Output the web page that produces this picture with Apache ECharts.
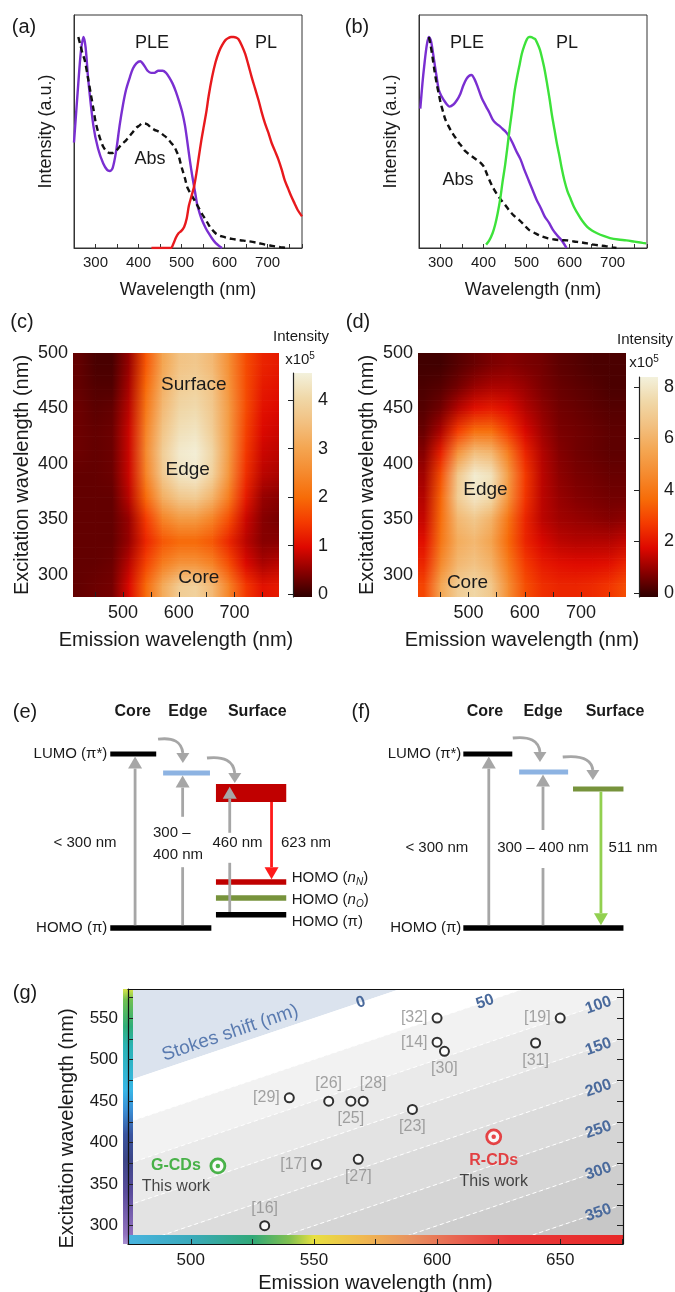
<!DOCTYPE html>
<html><head><meta charset="utf-8">
<script src="https://cdn.jsdelivr.net/npm/echarts@6/dist/echarts.min.js"></script>
<style>html,body{margin:0;padding:0;background:#fff}#c{width:675px;height:1292px}</style>
</head><body><div id="c"></div>
<script>
// ================= DATA =================
// (a) R-CDs spectra  [wavelength nm, normalized intensity]
const pleA = [[250,0.50],[260,0.78],[266,0.93],[272,1.0],[277,0.95],[283,0.80],[295,0.58],[306,0.47],[318,0.40],[327,0.37],[333,0.365],[340,0.38],[348,0.46],[356,0.58],[364,0.68],[371,0.75],[380,0.81],[387,0.85],[395,0.875],[404,0.885],[413,0.865],[421,0.84],[429,0.83],[437,0.83],[446,0.84],[456,0.84],[464,0.83],[471,0.81],[479,0.78],[487,0.74],[495,0.69],[502,0.64],[508,0.58],[513,0.51],[519,0.42],[525,0.34],[531,0.27],[536,0.21],[542,0.165],[548,0.13],[556,0.095],[563,0.07],[571,0.045],[579,0.024],[587,0.01],[594,0.0]];
const absA = [[260,1.0],[265,0.96],[270,0.92],[275,0.89],[283,0.80],[289,0.73],[295,0.66],[300,0.60],[306,0.55],[312,0.51],[318,0.48],[325,0.46],[333,0.45],[340,0.45],[345,0.455],[350,0.465],[356,0.48],[363,0.495],[371,0.51],[379,0.53],[387,0.55],[395,0.57],[402,0.58],[408,0.59],[414,0.59],[421,0.585],[429,0.57],[437,0.56],[448,0.55],[458,0.535],[467,0.52],[475,0.50],[483,0.48],[489,0.455],[494,0.43],[498,0.40],[502,0.37],[508,0.33],[513,0.29],[519,0.265],[525,0.245],[533,0.215],[540,0.19],[548,0.16],[556,0.134],[563,0.11],[571,0.087],[579,0.07],[587,0.06],[594,0.055],[606,0.048],[617,0.043],[636,0.037],[655,0.032],[675,0.025],[694,0.016],[706,0.012],[717,0.008],[730,0.004],[744,0.0]];
const plA = [[430,0],[460,0],[475,0],[481,0.02],[487,0.05],[493,0.07],[499,0.08],[506,0.10],[512,0.14],[517,0.20],[523,0.245],[529,0.29],[535,0.36],[540,0.43],[546,0.51],[552,0.58],[558,0.65],[563,0.72],[571,0.81],[579,0.88],[587,0.93],[594,0.96],[602,0.985],[609,0.995],[615,1.0],[621,1.0],[627,0.997],[632,0.99],[640,0.96],[648,0.92],[655,0.87],[663,0.81],[671,0.755],[679,0.70],[686,0.645],[694,0.59],[702,0.545],[709,0.50],[717,0.46],[725,0.42],[733,0.37],[740,0.32],[748,0.28],[755,0.245],[763,0.21],[770,0.18],[780,0.15]];
// (b) G-CDs spectra
const pleB = [[253,0.66],[258,0.78],[262,0.86],[268,0.96],[273,1.0],[278,0.98],[285,0.89],[291,0.81],[296,0.75],[302,0.72],[308,0.70],[315,0.68],[321,0.67],[330,0.68],[338,0.70],[346,0.73],[353,0.77],[360,0.80],[366,0.815],[372,0.82],[379,0.80],[387,0.76],[396,0.71],[406,0.67],[414,0.64],[421,0.61],[429,0.59],[436,0.58],[444,0.565],[452,0.55],[459,0.53],[467,0.50],[476,0.46],[486,0.42],[495,0.37],[505,0.32],[514,0.275],[523,0.23],[533,0.19],[542,0.15],[552,0.12],[561,0.087],[571,0.06],[580,0.04],[587,0.02],[593,0.0]];
const absB = [[273,1.0],[277,0.96],[281,0.91],[286,0.84],[291,0.78],[296,0.73],[300,0.69],[306,0.645],[311,0.61],[318,0.58],[326,0.55],[334,0.525],[342,0.50],[350,0.48],[357,0.46],[366,0.445],[376,0.43],[386,0.415],[395,0.40],[401,0.385],[406,0.36],[413,0.325],[421,0.29],[431,0.255],[440,0.23],[450,0.205],[459,0.18],[470,0.155],[482,0.134],[494,0.11],[505,0.087],[520,0.07],[535,0.055],[550,0.046],[565,0.04],[580,0.037],[595,0.036],[610,0.031],[626,0.027],[641,0.022],[656,0.016],[671,0.012],[686,0.008],[700,0.003],[709,0.0]];
const plB = [[406,0.016],[413,0.035],[421,0.07],[427,0.11],[433,0.166],[439,0.235],[444,0.31],[450,0.39],[455,0.47],[461,0.57],[467,0.66],[472,0.74],[478,0.81],[484,0.87],[489,0.92],[495,0.96],[501,0.99],[506,1.0],[510,1.0],[515,0.995],[520,0.99],[525,0.97],[531,0.94],[536,0.90],[542,0.845],[548,0.775],[554,0.70],[559,0.63],[565,0.56],[571,0.49],[577,0.43],[582,0.375],[588,0.32],[595,0.27],[603,0.23],[610,0.195],[618,0.166],[629,0.13],[641,0.10],[652,0.083],[664,0.07],[679,0.057],[694,0.047],[713,0.04],[732,0.036],[751,0.03],[770,0.024],[778,0.022]];

// (c)/(d) excitation-emission maps (x10^5)
const emCenters = [420,450,480,510,540,570,600,630,660,690,720,750,780];
const exCenters = [490,470,450,430,410,390,370,350,330,310,290];
const mapC = [
 [0.30,0.15,0.15,0.60,1.80,3.00,3.60,3.70,3.40,2.60,1.70,1.30,1.20],
 [0.30,0.20,0.20,0.70,2.00,3.20,3.80,3.90,3.60,2.70,1.70,1.20,1.10],
 [0.35,0.25,0.30,0.80,2.20,3.40,4.00,4.10,3.70,2.80,1.70,1.10,1.00],
 [0.35,0.30,0.35,0.90,2.40,3.60,4.20,4.30,3.80,2.80,1.60,1.00,0.90],
 [0.35,0.30,0.35,0.90,2.50,3.80,4.40,4.50,4.00,2.80,1.50,0.90,0.80],
 [0.30,0.30,0.35,0.90,2.40,3.70,4.30,4.40,3.90,2.70,1.40,0.80,0.70],
 [0.30,0.30,0.30,0.80,2.00,3.20,3.70,3.80,3.30,2.30,1.20,0.60,0.50],
 [0.30,0.30,0.30,0.60,1.50,2.40,2.80,2.80,2.40,1.70,0.90,0.50,0.40],
 [0.30,0.30,0.30,0.60,1.30,1.80,2.00,2.00,1.80,1.30,0.80,0.50,0.50],
 [0.30,0.30,0.35,0.80,1.60,2.30,2.70,2.70,2.40,1.70,1.00,0.70,0.80],
 [0.30,0.35,0.40,1.00,2.00,3.10,3.80,3.90,3.40,2.40,1.50,1.10,1.20]];
const mapD = [
 [0.20,0.20,0.40,0.60,0.80,0.90,0.80,0.70,0.50,0.40,0.30,0.30,0.30],
 [0.30,0.40,0.70,1.10,1.30,1.30,1.10,0.80,0.60,0.50,0.40,0.30,0.30],
 [0.40,0.70,1.40,2.00,2.20,1.90,1.40,1.00,0.70,0.60,0.50,0.40,0.40],
 [0.60,1.30,2.80,3.80,3.80,2.80,1.80,1.20,0.80,0.70,0.60,0.50,0.50],
 [0.90,2.30,5.00,6.50,6.20,4.30,2.40,1.40,0.90,0.70,0.60,0.50,0.50],
 [1.20,3.20,6.80,8.20,7.80,5.30,2.80,1.50,1.00,0.80,0.70,0.60,0.60],
 [1.40,3.60,7.00,8.00,7.50,5.00,2.70,1.50,1.10,0.90,0.80,0.70,0.70],
 [1.60,3.80,6.20,6.80,6.00,4.00,2.40,1.50,1.20,1.10,1.00,0.90,1.00],
 [2.00,4.00,5.80,6.20,5.50,3.70,2.40,1.80,1.50,1.40,1.40,1.40,1.60],
 [2.40,4.60,6.20,6.60,6.00,4.20,2.80,2.20,2.00,1.90,1.90,2.00,2.40],
 [3.00,5.60,7.00,7.40,6.80,4.80,3.20,2.60,2.40,2.40,2.50,2.70,3.20]];
const heatMaxC = 4.56, heatMaxD = 8.4;
const cbarTicksC = [0,1,2,3,4], cbarTicksD = [0,2,4,6,8];
const emTicks = [450,500,550,600,650,700,750], emLabels = [500,600,700], exLabels = [300,350,400,450,500];
// region annotations [emission, excitation, text]
const regionsC = [[627,471,'Surface'],[616,395,'Edge'],[636,297,'Core']];
const regionsD = [[530,377,'Edge'],[498,293,'Core']];

// (e) R-CDs energy diagram (relative energy, a.u.)
const eLevelE = [4.35, 3.875, 3.375, 1.15, 0.75, 0.33, 0];
const eArrows = [[0.07,4.285],[0.07,3.81],[0.40,3.53],[3.15,1.22]];   // [from, to]
const eCurves = [[4.72,4.125],[4.25,3.625]];
// (f) G-CDs energy diagram
const fLevelE = [4.35, 3.9, 3.475, 0];
const fArrows = [[0.07,4.285],[0.07,3.835],[3.41,0.07]];
const fCurves = [[4.75,4.15],[4.275,3.7]];

// (g) Stokes shift map
const refLabels = ['[32]','[19]','[14]','[30]','[31]','[26]','[29]','[25]','[28]','[23]','[27]','[17]','[16]'];
const refEm = [600,650,600,603,640,556,540,565,570,590,568,551,530];
const refEx = [550,550,521,510,520,450,454,450,450,440,380,374,300];
const thisWork = ['G-CDs','R-CDs'];
const thisEm = [511,623];
const thisEx = [372,407];
const stokesEdges = [-1000,0,50,100,150,200,250,300,350,1000];
const stokesLines = [50,100,150,200,250,300,350];
const stokesLabels = [0,50,100,150,200,250,300,350];
const gXTicks = [500,525,550,575,600,625,650,675], gXLabels = [500,550,600,650];
const gYTicks = [300,325,350,375,400,425,450,475,500,525,550,575], gYLabels = [300,350,400,450,500,550];

// ================= STYLE / LAYOUT =================
const FONT = '"Liberation Sans", Arial, Helvetica, sans-serif';
const INK = '#1a1a1a';
const heatPalette = ['#2e0000','#880000','#de0800','#f43a00','#f76c08','#f58a2e','#f4a652','#f2c080','#f0d8a8','#f3f1dc'];
const HX0 = 410, HX1 = 780, HY0 = 280, HY1 = 500;
const gX0 = 474.5, gX1 = 675.5, gY0 = 278, gY1 = 585;
const bandColors = ['#dbe3ee','#ffffff','#f2f2f2','#eaeaea','#e3e3e3','#dcdcdc','#d5d5d5','#cecece','#c7c7c7'];
const exBarWl = [278,290,340,380,410,440,463,517,540,572,585];
const exBarColor = ['#a98fd0','#9070be','#5a4c9c','#3c4688','#3a55a0','#3a90d6','#38b6e6','#2ab3b3','#2fae78','#70c050','#d8e44a'];
const emBarWl = [474.5,500,525,540,550,570,590,610,630,675.5];
const emBarColor = ['#48b4e0','#3aaabb','#30a878','#80c050','#e8e040','#f0b850','#e89060','#e86050','#e83a3a','#e82828'];
const refPos = ['left','left','left','bottom','bottom','top','left','bottom','top','bottom','bottom','left','top'];

// diagram layout (column units)
const eLevelSpan = [[0,1],[1.15,2.17],[2.3,3.83],[2.3,3.83],[2.3,3.83],[2.3,3.83],[0,2.2]];
const eLevelThick = [0.13,0.13,0.45,0.14,0.14,0.14,0.14];
const eLevelColor = ['#000000','#8db3e2','#c00000','#c00000','#77933c','#000000','#000000'];
const eArrowX = [0.54,1.575,2.6,3.51];
const eArrowGap = [null,[1.52,2.78],[1.63,2.38],null];
const eArrowColor = ['#a6a6a6','#a6a6a6','#a6a6a6','#ff1a1a'];
const eCurveX = [[1.04,1.58],[2.105,2.71]];
const eTexts = [
 [0.49,5.4,'Core','center',1],[1.69,5.4,'Edge','center',1],[3.2,5.4,'Surface','center',1],
 [-0.065,4.35,'LUMO (π*)','right'],[-0.065,0,'HOMO (π)','right'],
 [3.95,1.25,'HOMO ({it|n}{sub|N})','left'],[3.95,0.7,'HOMO ({it|n}{sub|O})','left'],[3.95,0.15,'HOMO (π)','left'],
 [-0.55,2.125,'< 300 nm','center'],[0.93,2.375,'300 –','left'],[0.93,1.825,'400 nm','left'],
 [2.77,2.125,'460 nm','center'],[4.26,2.125,'623 nm','center']];
const fLevelSpan = [[0,1],[1.14,2.14],[2.24,3.27],[0,3.27]];
const fLevelThick = [0.13,0.13,0.13,0.14];
const fLevelColor = ['#000000','#8db3e2','#77933c','#000000'];
const fArrowX = [0.52,1.627,2.81];
const fArrowGap = [null,[1.5,2.45],null];
const fArrowColor = ['#a6a6a6','#a6a6a6','#92d050'];
const fCurveX = [[1.01,1.565],[2.03,2.645]];
const fTexts = [
 [0.443,5.4,'Core','center',1],[1.627,5.4,'Edge','center',1],[3.097,5.4,'Surface','center',1],
 [-0.04,4.35,'LUMO (π*)','right'],[-0.04,0,'HOMO (π)','right'],
 [-0.54,2.0,'< 300 nm','center'],[1.627,2.0,'300 – 400 nm','center'],[3.465,2.0,'511 nm','center']];

// ================= BUILD =================
const chart = echarts.init(document.getElementById('c'), null, {renderer:'canvas', width:675, height:1292});
const series = [];
function add(s){ series.push(s); return series.length - 1; }
const nameStyle = s => ({fontFamily:FONT, fontSize:s, color:INK});
const lblStyle = s => ({fontFamily:FONT, fontSize:s, color:INK});

// spectra
function spectra(g, ple, abs, pl, plColor){
  const base = {type:'line', xAxisIndex:g, yAxisIndex:g, showSymbol:false, smooth:0.3, silent:true, z:3};
  add(Object.assign({}, base, {data:ple, lineStyle:{color:'#7a2fd1', width:2.4}}));
  add(Object.assign({}, base, {data:abs, lineStyle:{color:'#111', width:2.4, type:[6,4]}}));
  add(Object.assign({}, base, {data:pl, lineStyle:{color:plColor, width:2.4}}));
}
spectra(0, pleA, absA, plA, '#e8191d');
spectra(1, pleB, absB, plB, '#3de23a');

// heat maps: each cell value is coloured by the visualMap; the area between
// neighbouring cell centres is shaded with gradients between their colours.
function heatData(m){ const out=[]; exCenters.forEach((ex,i)=>emCenters.forEach((em,j)=>out.push([em,ex,m[i][j]]))); return out; }
function makeHeatItem(matrix, vmax){
  const nC = emCenters.length, nR = exCenters.length;
  return function(p, api){
    const idx = p.dataIndex, i = Math.floor(idx/nC), j = idx % nC;
    const col = (r,c) => api.visual('color', r*nC + c) || echarts.color.lerp(Math.min(1, matrix[r][c]/vmax), heatPalette);
    const em = api.value(0), ex = api.value(1);
    const xn = [];
    if (j===0) xn.push([HX0, 0]);
    xn.push([em, j]);
    xn.push(j<nC-1 ? [emCenters[j+1], j+1] : [HX1, j]);
    const yn = [];
    if (i===0) yn.push([HY1, 0]);
    yn.push([ex, i]);
    yn.push(i<nR-1 ? [exCenters[i+1], i+1] : [HY0, i]);
    const xpx = xn.map(n => api.coord([n[0], ex])[0]);
    const x0 = xpx[0], x1 = xpx[xpx.length-1];
    const kids = [];
    if (x1 - x0 < 0.5) return {type:'group', children:kids};
    for (let s=0; s<yn.length-1; s++){
      const ya = api.coord([em, yn[s][0]])[1], yb = api.coord([em, yn[s+1][0]])[1];
      if (Math.abs(yb-ya) < 0.5) continue;
      const ra = yn[s][1], rb = yn[s+1][1];
      const K = ra===rb ? 1 : 8;
      for (let k=0; k<K; k++){
        const t = (k+0.5)/K;
        const stops = xn.map((n,q)=>({offset:(xpx[q]-x0)/(x1-x0),
          color: ra===rb ? col(ra,n[1]) : echarts.color.lerp(t, [col(ra,n[1]), col(rb,n[1])])}));
        const y0 = ya + (yb-ya)*k/K, y1 = ya + (yb-ya)*(k+1)/K;
        kids.push({type:'rect', shape:{x:x0, y:Math.min(y0,y1), width:x1-x0+0.7, height:Math.abs(y1-y0)+0.7},
          style:{fill:new echarts.graphic.LinearGradient(0,0,1,0,stops)}});
      }
    }
    return {type:'group', children:kids};
  };
}
const hC = add({type:'custom', xAxisIndex:2, yAxisIndex:2, clip:true, silent:true, data:heatData(mapC), renderItem:makeHeatItem(mapC, heatMaxC), z:2});
const hD = add({type:'custom', xAxisIndex:4, yAxisIndex:4, clip:true, silent:true, data:heatData(mapD), renderItem:makeHeatItem(mapD, heatMaxD), z:2});
function regionText(g, items){
  add({type:'custom', xAxisIndex:g, yAxisIndex:g, silent:true, z:6, data:items.map(r=>[r[0], r[1]]),
    renderItem:(p, api)=>{
      const pt = api.coord([api.value(0), api.value(1)]);
      return {type:'text', x:pt[0], y:pt[1], style:{text:items[p.dataIndex][2], fill:INK, fontFamily:FONT, fontSize:19, align:'center', verticalAlign:'middle'}};
    }});
}
regionText(2, regionsC);
regionText(4, regionsD);
function cbarItem(p, api){
  const cs = p.coordSys;
  const stops = heatPalette.map((c,i)=>({offset:i/(heatPalette.length-1), color:c}));
  return {type:'rect', shape:{x:cs.x, y:cs.y, width:cs.width, height:cs.height}, style:{fill:new echarts.graphic.LinearGradient(0,1,0,0,stops)}};
}
add({type:'custom', xAxisIndex:3, yAxisIndex:3, silent:true, data:[[0.5,0]], renderItem:cbarItem, z:2});
add({type:'custom', xAxisIndex:5, yAxisIndex:5, silent:true, data:[[0.5,0]], renderItem:cbarItem, z:2});

// energy diagrams
const RICH = {
  it:{fontStyle:'italic', fontSize:15, fontFamily:FONT, fill:INK, color:INK},
  sub:{fontStyle:'italic', fontSize:10, fontFamily:FONT, fill:INK, color:INK, verticalAlign:'bottom', padding:[8,0,0,0]}
};
function diagram(g, levelE, span, thick, colors, arrows, arrowX, gaps, arrowColors, curves, curveX, texts){
  add({type:'custom', xAxisIndex:g, yAxisIndex:g, silent:true, z:3,
    data: levelE.map((e,i)=>[span[i][0], e]),
    renderItem:(p, api)=>{
      const i=p.dataIndex, e=api.value(1);
      const a=api.coord([span[i][0], e+thick[i]/2]), b=api.coord([span[i][1], e-thick[i]/2]);
      return {type:'rect', shape:{x:a[0], y:a[1], width:b[0]-a[0], height:b[1]-a[1]}, style:{fill:colors[i]}};
    }});
  add({type:'custom', xAxisIndex:g, yAxisIndex:g, silent:true, z:4,
    data: arrows.map((r,i)=>[arrowX[i], r[0], r[1]]),
    renderItem:(p, api)=>{
      const i=p.dataIndex, x=api.value(0), e0=api.value(1), e1=api.value(2);
      const p0=api.coord([x,e0]), p1=api.coord([x,e1]);
      const dir = p1[1] > p0[1] ? 1 : -1, L=12, H=7;
      const base = p1[1] - dir*L;
      const col = arrowColors[i], kids=[];
      const seg=(y1,y2)=>kids.push({type:'line', shape:{x1:p0[0], y1:y1, x2:p0[0], y2:y2}, style:{stroke:col, lineWidth:2.8}});
      if (gaps[i]) {
        const gA=api.coord([x,gaps[i][0]])[1], gB=api.coord([x,gaps[i][1]])[1];
        if (dir<0){ seg(p0[1], gA); seg(gB, base); } else { seg(p0[1], gB); seg(gA, base); }
      } else seg(p0[1], base);
      kids.push({type:'polygon', shape:{points:[[p1[0],p1[1]],[p1[0]-H,base],[p1[0]+H,base]]}, style:{fill:col}});
      return {type:'group', children:kids};
    }});
  add({type:'custom', xAxisIndex:g, yAxisIndex:g, silent:true, z:4,
    data: curves.map((c,i)=>[curveX[i][0], c[0], curveX[i][1], c[1]]),
    renderItem:(p, api)=>{
      const s=api.coord([api.value(0), api.value(1)]), t=api.coord([api.value(2), api.value(3)]);
      const base=t[1]-10;
      return {type:'group', children:[
        {type:'bezierCurve', shape:{x1:s[0], y1:s[1], x2:t[0], y2:base, cpx1:t[0]-2, cpy1:s[1]-3}, style:{stroke:'#a6a6a6', lineWidth:2.8, fill:null}},
        {type:'polygon', shape:{points:[[t[0],t[1]],[t[0]-6.5,base],[t[0]+6.5,base]]}, style:{fill:'#a6a6a6'}}]};
    }});
  add({type:'custom', xAxisIndex:g, yAxisIndex:g, silent:true, z:5,
    data: texts.map(t=>[t[0], t[1]]),
    renderItem:(p, api)=>{
      const t=texts[p.dataIndex], pt=api.coord([api.value(0), api.value(1)]), head=!!t[4];
      return {type:'text', x:pt[0], y:pt[1], style:{text:t[2], fill:INK, fontFamily:FONT, fontSize:head?16:15,
        fontWeight:head?'bold':'normal', align:t[3], verticalAlign:'middle', rich:RICH}};
    }});
}
diagram(6, eLevelE, eLevelSpan, eLevelThick, eLevelColor, eArrows, eArrowX, eArrowGap, eArrowColor, eCurves, eCurveX, eTexts);
diagram(7, fLevelE, fLevelSpan, fLevelThick, fLevelColor, fArrows, fArrowX, fArrowGap, fArrowColor, fCurves, fCurveX, fTexts);

// (g)
add({type:'custom', xAxisIndex:8, yAxisIndex:8, clip:true, silent:true, z:1,
  data: bandColors.map((c,i)=>[stokesEdges[i], stokesEdges[i+1]]),
  renderItem:(p, api)=>{
    const a=api.value(0), b=api.value(1);
    const pts=[[gX0,gX0-a],[gX1,gX1-a],[gX1,gX1-b],[gX0,gX0-b]].map(q=>api.coord(q));
    return {type:'polygon', shape:{points:pts}, style:{fill:bandColors[p.dataIndex]}};
  }});
add({type:'custom', xAxisIndex:8, yAxisIndex:8, clip:true, silent:true, z:2,
  data: stokesLines.map(s=>[s, 0]),
  renderItem:(p, api)=>{
    const s=api.value(0), a=api.coord([gX0,gX0-s]), b=api.coord([gX1,gX1-s]);
    return {type:'line', shape:{x1:a[0], y1:a[1], x2:b[0], y2:b[1]}, style:{stroke:'#ffffff', lineWidth:1, lineDash:[4,3]}};
  }});
const stokesLabelEm = [569,619.5,665.5,665.5,665.5,665.5,665.5,665.5];
add({type:'custom', xAxisIndex:8, yAxisIndex:8, clip:false, silent:true, z:3,
  data: stokesLabels.map((s,i)=>[stokesLabelEm[i], stokesLabelEm[i]-s]).concat([[516,532]]),
  renderItem:(p, api)=>{
    const q1=api.coord([500,500]), q2=api.coord([600,600]);
    const ang=Math.atan2(q1[1]-q2[1], q2[0]-q1[0]);
    const pt=api.coord([api.value(0), api.value(1)]);
    const isTitle = p.dataIndex >= stokesLabels.length;
    return {type:'text', x:pt[0], y:pt[1], rotation:ang,
      style:{text: isTitle ? 'Stokes shift (nm)' : String(stokesLabels[p.dataIndex]),
        fill: isTitle ? '#5a7bb0' : '#4a6a9c', fontFamily:FONT, fontSize: isTitle?19:16,
        fontWeight: isTitle?'normal':'bold', align:'center', verticalAlign:'middle'}};
  }});
add({type:'custom', xAxisIndex:8, yAxisIndex:8, clip:false, silent:true, z:4,
  data:[[gX0,gY0]],
  renderItem:(p, api)=>{
    const cs=p.coordSys;
    const ys = exBarWl.map((w,i)=>({offset:(w-gY0)/(gY1-gY0), color:exBarColor[i]}));
    const xs = emBarWl.map((w,i)=>({offset:(w-gX0)/(gX1-gX0), color:emBarColor[i]}));
    return {type:'group', children:[
      {type:'rect', shape:{x:cs.x-5, y:cs.y, width:10, height:cs.height}, style:{fill:new echarts.graphic.LinearGradient(0,1,0,0,ys)}},
      {type:'rect', shape:{x:cs.x, y:cs.y+cs.height-9, width:cs.width, height:10}, style:{fill:new echarts.graphic.LinearGradient(0,0,1,0,xs)}}]};
  }});
add({type:'scatter', xAxisIndex:8, yAxisIndex:8, silent:true, z:6, symbol:'circle', symbolSize:9,
  itemStyle:{color:'#ffffff', borderColor:'#000', borderWidth:2},
  label:{show:true, formatter:'{b}', fontFamily:FONT, fontSize:16, color:'#8c8c8c', distance:4},
  data: refLabels.map((l,i)=>({name:l, value:[refEm[i], refEx[i]],
    label:Object.assign({position:refPos[i]}, l==='[28]'?{offset:[10,0]}:{})}))});
const twColor = ['#1fa31f','#e3191c'];
add({type:'scatter', xAxisIndex:8, yAxisIndex:8, silent:true, z:6, symbol:'circle', symbolSize:14,
  data: thisWork.map((n,i)=>({name:n, value:[thisEm[i], thisEx[i]],
    itemStyle:{color:'#ffffff', borderColor:twColor[i], borderWidth:2.8},
    label:{show:true, position:'inside', align:'center', offset: i===0?[-42,10]:[0,34],
      formatter:'{t|'+n+'}\n{w|This work}',
      rich:{t:{fontFamily:FONT, fontSize:16, fontWeight:'bold', color:twColor[i], lineHeight:21},
            w:{fontFamily:FONT, fontSize:16, color:INK, lineHeight:21}}}}))});
add({type:'scatter', xAxisIndex:8, yAxisIndex:8, silent:true, z:7, symbol:'circle', symbolSize:4.5,
  data: thisWork.map((n,i)=>({value:[thisEm[i], thisEx[i]], itemStyle:{color:twColor[i]}}))});

// ================= AXES =================
const noAxis = (g, mn, mx) => ({gridIndex:g, type:'value', min:mn, max:mx, show:false});
const specFmt = v => (Math.round(v)%100===0 && v>=300 && v<=700) ? String(Math.round(v)) : '';
const xAxes = [
  {gridIndex:0, type:'value', min:250, max:780, interval:50, name:'Wavelength (nm)', nameLocation:'middle', nameGap:33, nameMoveOverlap:false,
   nameTextStyle:nameStyle(18), axisLine:{show:true, lineStyle:{color:'#333'}}, axisTick:{inside:true, length:4, lineStyle:{color:'#333'}},
   axisLabel:Object.assign(lblStyle(15), {margin:7, formatter:specFmt}), splitLine:{show:false}},
  {gridIndex:1, type:'value', min:250, max:780, interval:50, name:'Wavelength (nm)', nameLocation:'middle', nameGap:33, nameMoveOverlap:false,
   nameTextStyle:nameStyle(18), axisLine:{show:true, lineStyle:{color:'#333'}}, axisTick:{inside:true, length:4, lineStyle:{color:'#333'}},
   axisLabel:Object.assign(lblStyle(15), {margin:7, formatter:specFmt}), splitLine:{show:false}},
  {gridIndex:2, type:'value', min:HX0, max:HX1, name:'Emission wavelength (nm)', nameLocation:'middle', nameGap:33, nameMoveOverlap:false, z:10,
   nameTextStyle:nameStyle(20), axisLine:{show:false}, axisTick:{show:true, inside:true, length:5, customValues:emTicks, lineStyle:{color:'#222'}},
   axisLabel:Object.assign(lblStyle(18), {margin:7, customValues:emLabels}), splitLine:{show:false}},
  noAxis(3,0,1),
  {gridIndex:4, type:'value', min:HX0, max:HX1, name:'Emission wavelength (nm)', nameLocation:'middle', nameGap:33, nameMoveOverlap:false, z:10,
   nameTextStyle:nameStyle(20), axisLine:{show:false}, axisTick:{show:true, inside:true, length:5, customValues:emTicks, lineStyle:{color:'#222'}},
   axisLabel:Object.assign(lblStyle(18), {margin:7, customValues:emLabels}), splitLine:{show:false}},
  noAxis(5,0,1),
  noAxis(6,-2.4,5.0),
  noAxis(7,-2.6,4.2),
  {gridIndex:8, type:'value', min:gX0, max:gX1, name:'Emission wavelength (nm)', nameLocation:'middle', nameGap:29, nameMoveOverlap:false, z:10,
   nameTextStyle:nameStyle(20), axisLine:{show:true, lineStyle:{color:'#111', width:1.2}},
   axisTick:{show:true, inside:true, length:5, customValues:gXTicks, lineStyle:{color:'#222'}},
   axisLabel:Object.assign(lblStyle(17), {margin:8, customValues:gXLabels}), splitLine:{show:false}},
  {gridIndex:8, type:'value', position:'top', min:gX0, max:gX1, z:10, axisLine:{show:true, lineStyle:{color:'#111', width:1.2}},
   axisTick:{show:false}, axisLabel:{show:false}, splitLine:{show:false}}
];
const yAxes = [
  {gridIndex:0, type:'value', min:0, max:1.104, name:'Intensity (a.u.)', nameLocation:'middle', nameGap:19, nameMoveOverlap:false,
   nameTextStyle:nameStyle(18), axisLine:{show:true, lineStyle:{color:'#333'}}, axisTick:{show:false}, axisLabel:{show:false}, splitLine:{show:false}},
  {gridIndex:1, type:'value', min:0, max:1.104, name:'Intensity (a.u.)', nameLocation:'middle', nameGap:19, nameMoveOverlap:false,
   nameTextStyle:nameStyle(18), axisLine:{show:true, lineStyle:{color:'#333'}}, axisTick:{show:false}, axisLabel:{show:false}, splitLine:{show:false}},
  {gridIndex:2, type:'value', min:HY0, max:HY1, name:'Excitation wavelength (nm)', nameLocation:'middle', nameGap:41, nameMoveOverlap:false, z:10,
   nameTextStyle:nameStyle(20), axisLine:{show:false}, axisTick:{show:false},
   axisLabel:Object.assign(lblStyle(18), {margin:5, customValues:exLabels}), splitLine:{show:false}},
  {gridIndex:3, type:'value', position:'right', min:-0.06, max:heatMaxC, z:10, axisLine:{show:true, lineStyle:{color:'#222', width:1.2}},
   axisTick:{show:true, inside:true, length:5, customValues:cbarTicksC, lineStyle:{color:'#222'}},
   axisLabel:Object.assign(lblStyle(18), {margin:6, customValues:cbarTicksC}), splitLine:{show:false}},
  {gridIndex:4, type:'value', min:HY0, max:HY1, name:'Excitation wavelength (nm)', nameLocation:'middle', nameGap:41, nameMoveOverlap:false, z:10,
   nameTextStyle:nameStyle(20), axisLine:{show:false}, axisTick:{show:false},
   axisLabel:Object.assign(lblStyle(18), {margin:5, customValues:exLabels}), splitLine:{show:false}},
  {gridIndex:5, type:'value', position:'right', min:-0.16, max:8.39, z:10, axisLine:{show:true, lineStyle:{color:'#222', width:1.2}},
   axisTick:{show:true, inside:true, length:5, customValues:cbarTicksD, lineStyle:{color:'#222'}},
   axisLabel:Object.assign(lblStyle(18), {margin:6, customValues:cbarTicksD}), splitLine:{show:false}},
  noAxis(6,-0.5,6.0),
  noAxis(7,-0.5,6.0),
  {gridIndex:8, type:'value', min:gY0, max:gY1, name:'Excitation wavelength (nm)', nameLocation:'middle', nameGap:51, nameMoveOverlap:false, z:10,
   nameTextStyle:Object.assign(nameStyle(20), {padding:[0,24,0,0]}), axisLine:{show:true, lineStyle:{color:'#111', width:1.2}},
   axisTick:{show:true, inside:true, length:5, customValues:gYTicks, lineStyle:{color:'#222'}},
   axisLabel:Object.assign(lblStyle(17), {margin:10, customValues:gYLabels}), splitLine:{show:false}},
  {gridIndex:8, type:'value', position:'right', min:gY0, max:gY1, z:10, axisLine:{show:true, lineStyle:{color:'#111', width:1.2}},
   axisTick:{show:true, inside:true, length:6, customValues:gYTicks, lineStyle:{color:'#222'}}, axisLabel:{show:false}, splitLine:{show:false}}
];
const G = (l,t,w,h,extra) => Object.assign({left:l, top:t, width:w, height:h, containLabel:false, outerBoundsMode:'none'}, extra||{});
const grids = [
  G(74,15,228,233,{show:true, borderColor:'#333', borderWidth:1}),
  G(419,15,228,233,{show:true, borderColor:'#333', borderWidth:1}),
  G(73,353,206,244), G(293,373,19,224),
  G(418,353,208,244), G(639,377,19,220),
  G(0,688,340,260), G(336,688,333,260),
  G(128,989,495,255)
];

function T(text, x, y, size, extra){
  return {type:'text', x:x, y:y, silent:true, z:100, style:Object.assign({text:text, fill:INK, fontFamily:FONT, fontSize:size,
    align:'center', verticalAlign:'middle', textAlign:'center', textVerticalAlign:'middle'}, extra||{})};
}
const SUP = {sup:{fontSize:10, fontFamily:FONT, fill:INK, color:INK, verticalAlign:'top', padding:[0,0,8,0]}};
const graphics = [
  T('(a)',24,27,20), T('(b)',357,27,20), T('(c)',22,322,20), T('(d)',358,322,20),
  T('(e)',25,712,20), T('(f)',361,712,20), T('(g)',25,993,20),
  T('PLE',152,43,18), T('PL',266,43,18), T('Abs',150,159,18),
  T('PLE',467,43,18), T('PL',567,43,18), T('Abs',458,180,18),
  T('Intensity',301,337,15), T('x10{sup|5}',300,360,15,{rich:SUP}),
  T('Intensity',645,340,15), T('x10{sup|5}',644,363,15,{rich:SUP})
];

chart.setOption({
  animation:false,
  backgroundColor:'#ffffff',
  textStyle:{fontFamily:FONT},
  grid:grids, xAxis:xAxes, yAxis:yAxes,
  visualMap:[
    {type:'continuous', show:false, seriesIndex:hC, dimension:2, min:0, max:heatMaxC, inRange:{color:heatPalette}},
    {type:'continuous', show:false, seriesIndex:hD, dimension:2, min:0, max:heatMaxD, inRange:{color:heatPalette}}
  ],
  series:series,
  graphic:graphics
});
</script></body></html>
